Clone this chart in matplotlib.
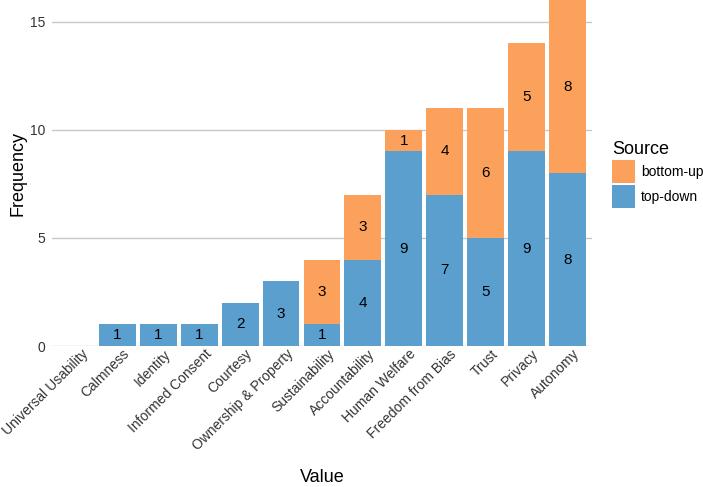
import matplotlib
matplotlib.use("Agg")
import matplotlib.pyplot as plt
import matplotlib.transforms as mtransforms
from matplotlib.patches import Patch
import numpy as np

plt.rcParams['font.family'] = ['Liberation Sans', 'DejaVu Sans']

categories = ["Universal Usability", "Calmness", "Identity", "Informed Consent", "Courtesy",
              "Ownership & Property", "Sustainability", "Accountability", "Human Welfare",
              "Freedom from Bias", "Trust", "Privacy", "Autonomy"]
top_down = [0, 1, 1, 1, 2, 3, 1, 4, 9, 7, 5, 9, 8]
bottom_up = [0, 0, 0, 0, 0, 0, 3, 3, 1, 4, 6, 5, 8]

c_bu = '#FCA15B'
c_td = '#5B9FCE'

fig = plt.figure(figsize=(7.03, 4.87), dpi=100)
ax = fig.add_axes([0.074, 0.2895, 0.768, 0.7105])

x = np.arange(len(categories))
w = 0.9
td = np.array(top_down)
bu = np.array(bottom_up)
ax.bar(x, td, width=w, color=c_td, linewidth=0, zorder=2)
ax.bar(x, bu, bottom=td, width=w, color=c_bu, linewidth=0, zorder=2)

for i in range(len(categories)):
    if td[i] > 0:
        ax.text(x[i], td[i] / 2, str(td[i]), ha='center', va='center', fontsize=11, color='black', zorder=3)
    if bu[i] > 0:
        ax.text(x[i], td[i] + bu[i] / 2, str(bu[i]), ha='center', va='center', fontsize=11, color='black', zorder=3)

ax.set_xlim(-0.6, len(categories) - 0.4)
ax.set_ylim(0, 16)
ax.set_yticks([0, 5, 10, 15])
ax.yaxis.grid(True, color='#C8C8C8', linewidth=1.0, zorder=0)
ax.set_axisbelow(True)
for s in ax.spines.values():
    s.set_visible(False)
ax.tick_params(axis='both', length=0, labelsize=10, labelcolor='#333333')
ax.tick_params(axis='y', pad=5)
ax.set_xticks(x)
ax.set_xticklabels(categories, rotation=45, ha='right', va='top', rotation_mode='anchor')
ax.tick_params(axis='x', pad=2)
offset = mtransforms.ScaledTranslation(0.05, 0.02, fig.dpi_scale_trans)
for lbl in ax.get_xticklabels():
    lbl.set_transform(lbl.get_transform() + offset)

ax.set_xlabel('Value', fontsize=13)
ax.xaxis.set_label_coords(0.5, -0.38)
ax.xaxis.label.set_va('center')
ax.set_ylabel('Frequency', fontsize=13)
ax.yaxis.set_label_coords(-0.063, 0.5)
ax.yaxis.label.set_va('center')

handles = [Patch(facecolor=c_bu, label='bottom-up'), Patch(facecolor=c_td, label='top-down')]
leg = fig.legend(handles=handles, title='Source', loc='upper left', bbox_to_anchor=(0.8705, 0.7097),
                 frameon=False, fontsize=10, title_fontsize=13, handlelength=1.65, handleheight=2.15,
                 handletextpad=0.45, labelspacing=0.15, borderaxespad=0, borderpad=0)
leg._legend_box.align = 'left'

fig.savefig('out.png', dpi=100)
